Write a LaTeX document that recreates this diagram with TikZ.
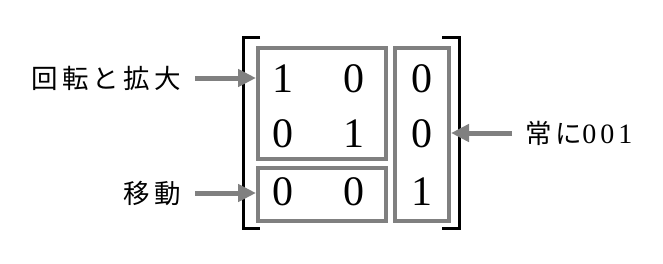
\documentclass[tikz,border=0pt]{standalone}
\usepackage{fontspec}
\setmainfont{Liberation Serif}
\newfontfamily\cjk[LetterSpace=16]{Noto Sans CJK JP}
\usetikzlibrary{arrows.meta}
\definecolor{boxgray}{RGB}{128,128,128}
\tikzset{
  grp/.style={draw=boxgray, line width=4pt, minimum width=#1, inner sep=0pt},
  num/.style={font=\fontsize{42}{42}\selectfont, inner sep=0pt},
  lbl/.style={font=\cjk\fontsize{26.5}{26.5}\selectfont, inner sep=0pt},
  arr/.style={draw=boxgray, line width=5pt, -{Triangle[length=18pt,width=17pt]}},
  brk/.style={draw=black, line width=3pt}
}
\begin{document}
\begin{tikzpicture}[x=1pt,y=-1pt]
\useasboundingbox (0,0) rectangle (663,263);
% groups
\node[grp=128pt, minimum height=111pt] (b1) at (322,103.5) {};
\node[grp=128pt, minimum height=53pt] (b2) at (322,194.5) {};
\node[grp=54pt, minimum height=173pt] (b3) at (422,134.5) {};
% entries
\node[num] (m11) at (283,79) {1};
\node[num] (m12) at (354,79) {0};
\node[num] (m13) at (422,79) {0};
\node[num] (m21) at (283,134) {0};
\node[num] (m22) at (354,134) {1};
\node[num] (m23) at (422,134) {0};
\node[num] (m31) at (283,192) {0};
\node[num] (m32) at (354,192) {0};
\node[num] (m33) at (422,192) {1};
% brackets
\draw[brk] (260,37) -- (243,37) -- (243,228) -- (260,228);
\draw[brk] (442,37) -- (459,37) -- (459,228) -- (442,228);
% labels
\node[lbl, anchor=east] (l1) at (181,78) {回転と拡大};
\node[lbl, anchor=east] (l2) at (181,193) {移動};
\node[lbl, anchor=west] (l3) at (525,133) {常に{\rmfamily\fontsize{28}{28}\selectfont 0\hspace{4pt}0\hspace{4pt}1}};
% arrows
\coordinate (a1) at (195,78);
\coordinate (a2) at (195,193);
\coordinate (a3) at (512,133);
\draw[arr] (a1) -- (b1.west |- a1);
\draw[arr] (a2) -- (b2.west |- a2);
\draw[arr] (a3) -- (b3.east |- a3);
\end{tikzpicture}
\end{document}
